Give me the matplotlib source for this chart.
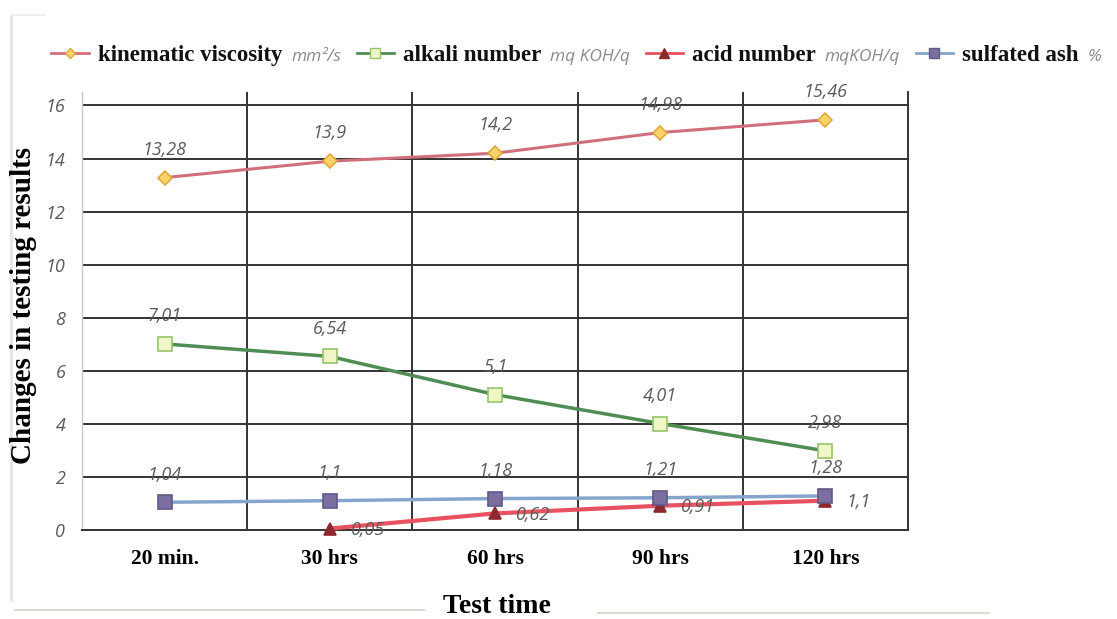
import matplotlib
matplotlib.use("Agg")
import matplotlib.pyplot as plt
from matplotlib.lines import Line2D
from matplotlib.offsetbox import HPacker, TextArea, DrawingArea, AnchoredOffsetbox

times = ["20 min.", "30 hrs", "60 hrs", "90 hrs", "120 hrs"]
viscosity = [13.28, 13.9, 14.2, 14.98, 15.46]
alkali = [7.01, 6.54, 5.1, 4.01, 2.98]
acid = [None, 0.05, 0.62, 0.91, 1.1]
ash = [1.04, 1.1, 1.18, 1.21, 1.28]

SERIF = "Liberation Serif"
SANS = "Open Sans"
LBL_COLOR = "#5a5a5a"


def fmt(v):
    return f"{v:g}".replace(".", ",")


fig = plt.figure(figsize=(11.17, 6.19), dpi=100)
ax = fig.add_axes([0.0734, 0.144, 0.7395, 0.707])

x = list(range(len(times)))

styles = [
    dict(vals=viscosity, color="#cf6f7c", marker="D", ms=7, mfc="#f6d46a", mec="#e3a83a", lw=2.2),
    dict(vals=alkali, color="#4f8d55", marker="s", ms=10, mfc="#eef6c6", mec="#97c46a", lw=2.5),
    dict(vals=acid, color="#e8515f", marker="^", ms=9, mfc="#8c2a2e", mec="#8c2a2e", lw=3),
    dict(vals=ash, color="#86a4cc", marker="s", ms=10, mfc="#7b6f9f", mec="#62588a", lw=2.5),
]

for s in styles:
    xs = [i for i, v in zip(x, s["vals"]) if v is not None]
    ys = [v for v in s["vals"] if v is not None]
    ax.plot(xs, ys, color=s["color"], lw=s["lw"], marker=s["marker"], ms=s["ms"],
            mfc=s["mfc"], mec=s["mec"], mew=1.2, zorder=3, clip_on=False)

# value labels
lab_kw = dict(fontsize=13, style="italic", color=LBL_COLOR, family=SANS, zorder=4)
for series in (viscosity, alkali, ash):
    for i, v in zip(x, series):
        ax.annotate(fmt(v), (i, v), xytext=(0, 20), textcoords="offset points",
                    ha="center", va="center", **lab_kw)
for i, v in zip(x, acid):
    if v is None:
        continue
    ax.annotate(fmt(v), (i, v), xytext=(15, -1), textcoords="offset points",
                ha="left", va="center", **lab_kw)

ax.set_xlim(-0.5, 4.5)
ax.set_ylim(0, 16.5)
ax.set_yticks(range(0, 17, 2))
ax.set_xticks(x)
ax.set_xticklabels(times, fontsize=15.5, fontweight="bold", family=SERIF)
for t in ax.get_yticklabels():
    t.set_fontsize(13)
    t.set_style("italic")
    t.set_color(LBL_COLOR)
    t.set_family(SANS)
ax.tick_params(axis="both", length=0)
ax.tick_params(axis="y", pad=12)
ax.tick_params(axis="x", pad=14)

# grid: horizontal at ticks, vertical between categories
for yv in range(2, 17, 2):
    ax.axhline(yv, color="#333333", lw=1.4, zorder=1)
for xv in [0.5, 1.5, 2.5, 3.5]:
    ax.axvline(xv, color="#333333", lw=1.4, zorder=1)

ax.spines["top"].set_visible(False)
ax.spines["left"].set_color("#c8c8c8")
ax.spines["left"].set_linewidth(1.0)
ax.spines["right"].set_color("#333333")
ax.spines["right"].set_linewidth(1.4)
ax.spines["bottom"].set_color("#333333")
ax.spines["bottom"].set_linewidth(1.4)

fig.text(0.021, 0.507, "Changes in testing results", rotation=90, ha="center", va="center",
         fontsize=21, fontweight="bold", family=SERIF)
fig.text(0.445, 0.02, "Test time", ha="center", va="center",
         fontsize=20, fontweight="bold", family=SERIF)
fig.add_artist(Line2D([0.013, 0.38], [0.015, 0.015], color="#dcdcd4", lw=1.5))
fig.add_artist(Line2D([0.535, 0.885], [0.01, 0.01], color="#dcdcd4", lw=1.5))
# faint page edge on the left
fig.add_artist(Line2D([0.0095, 0.0095], [0.03, 0.975], color="#e6e6e6", lw=2))
fig.add_artist(Line2D([0.0095, 0.04], [0.975, 0.975], color="#eeeeee", lw=1.5))

# legend built from pieces so each entry can carry a bold name and a light unit


def key(s):
    da = DrawingArea(27, 12, 0, 0)
    da.add_artist(Line2D([0, 27], [6, 6], color=s["color"], lw=2))
    da.add_artist(Line2D([13.5], [6], marker=s["marker"], ms=s["ms"] * 0.75, mfc=s["mfc"],
                         mec=s["mec"], mew=1))
    return da


name_props = dict(fontsize=16.5, fontweight="bold", family=SERIF, color="#111111")
unit_props = dict(fontsize=12.5, style="italic", family=SANS, color="#8a8a8a")
names = ["kinematic viscosity", "alkali number", "acid number", "sulfated ash"]
units = ["mm²/s", "mq KOH/q", "mqKOH/q", "%"]

entries = []
for s, n, u in zip(styles, names, units):
    entries.append(HPacker(children=[key(s), TextArea(n, textprops=name_props),
                                     TextArea(u, textprops=unit_props)],
                           sep=6.5, align="baseline", pad=0))
legend = HPacker(children=entries, sep=11, align="center", pad=0)
anchored = AnchoredOffsetbox(loc="center left", child=legend, frameon=False,
                             bbox_to_anchor=(0.046, 0.911), bbox_transform=fig.transFigure,
                             pad=0, borderpad=0)
fig.add_artist(anchored)

fig.savefig("out.png", dpi=100)
